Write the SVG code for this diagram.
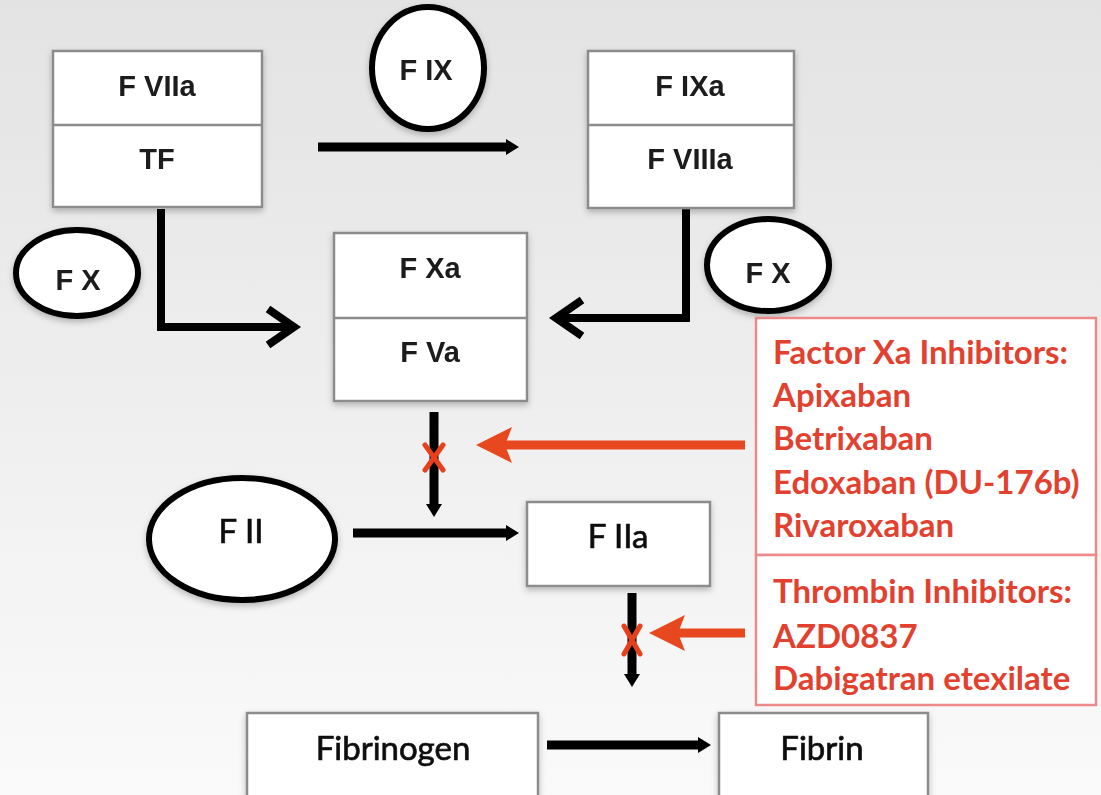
<svg xmlns="http://www.w3.org/2000/svg" width="1101" height="795" viewBox="0 0 1101 795">
<defs>
<linearGradient id="bg" x1="0" y1="0" x2="0" y2="1">
<stop offset="0" stop-color="#e3e3e3"/>
<stop offset="1" stop-color="#fafafa"/>
</linearGradient>
<filter id="sh" x="-20%" y="-20%" width="140%" height="140%">
<feDropShadow dx="0" dy="3" stdDeviation="3" flood-color="#000" flood-opacity="0.25"/>
</filter>
<marker id="ah" viewBox="0 -9 13 18" refX="2" refY="0" markerWidth="13" markerHeight="18" markerUnits="userSpaceOnUse" orient="auto">
<path d="M0,-8 L13,0 L0,8 z" fill="#000"/>
</marker>
<marker id="oh" viewBox="0 -19 36 38" refX="8" refY="0" markerWidth="36" markerHeight="38" markerUnits="userSpaceOnUse" orient="auto">
<path d="M36,0 L0,-18 L7,0 L0,18 z" fill="#e8481f"/>
</marker>
</defs>
<style>
.box{fill:#fff;stroke:#8c8c8c;stroke-width:2.5}
.div{stroke:#8c8c8c;stroke-width:2.5}
.ell{fill:#fff;stroke:#000;stroke-width:6}
.t1{font-family:"Liberation Sans",Arial,sans-serif;font-weight:bold;font-size:29px;fill:#1a1a1a;text-anchor:middle}
.t2{font-family:Lato,"Liberation Sans",sans-serif;font-size:33px;fill:#111;stroke:#111;stroke-width:0.7;text-anchor:middle}
.rb{fill:#fff;stroke:#ec8a8a;stroke-width:2.5}
.rt{font-family:Lato,"Liberation Sans",sans-serif;font-weight:bold;font-size:33px;fill:#e2412f}
.ln{fill:none;stroke:#000;stroke-width:9}
.el{fill:none;stroke:#000;stroke-width:8}
.or{fill:none;stroke:#e8481f;stroke-width:9}
.x{stroke:#e8401c;stroke-width:5;stroke-linecap:round}
</style>
<rect x="0" y="0" width="1101" height="795" fill="url(#bg)"/>

<g id="connectors">
<line class="ln" x1="318" y1="147" x2="508" y2="147" marker-end="url(#ah)"/>
<path class="el" d="M161,209 V327 H292"/>
<path class="el" d="M268,309 L294,327 L268,345"/>
<path class="el" d="M686,208 V318 H558"/>
<path class="el" d="M582,300 L556,318 L582,336"/>
<line class="ln" x1="434" y1="412" x2="434" y2="506" marker-end="url(#ah)"/>
<line class="ln" x1="353" y1="533" x2="508" y2="533" marker-end="url(#ah)"/>
<line class="ln" x1="632" y1="593" x2="632" y2="676" marker-end="url(#ah)"/>
<line class="ln" x1="547" y1="745" x2="700" y2="745" marker-end="url(#ah)"/>
<line class="or" x1="745" y1="445" x2="504" y2="445" marker-end="url(#oh)"/>
<line class="or" x1="745" y1="633" x2="677" y2="633" marker-end="url(#oh)"/>
<g id="block1"><line class="x" x1="425" y1="445" x2="443" y2="470"/><line class="x" x1="443" y1="445" x2="425" y2="470"/></g>
<g id="block2"><line class="x" x1="624" y1="626" x2="640" y2="654"/><line class="x" x1="640" y1="626" x2="624" y2="654"/></g>
</g>

<g id="fviia-tf" filter="url(#sh)">
<rect class="box" x="53" y="51" width="209" height="156"/>
<line class="div" x1="53" y1="125" x2="262" y2="125"/>
<text class="t1" x="157" y="96">F VIIa</text>
<text class="t1" x="157" y="169">TF</text>
</g>

<g id="fix" filter="url(#sh)">
<ellipse class="ell" cx="428" cy="68" rx="56" ry="61"/>
<text class="t1" x="426" y="80">F IX</text>
</g>

<g id="fixa-fviiia" filter="url(#sh)">
<rect class="box" x="588" y="51" width="206" height="157"/>
<line class="div" x1="588" y1="125" x2="794" y2="125"/>
<text class="t1" x="690" y="96">F IXa</text>
<text class="t1" x="690" y="169">F VIIIa</text>
</g>

<g id="fx-left" filter="url(#sh)">
<ellipse class="ell" cx="77" cy="273" rx="61" ry="43"/>
<text class="t1" x="78" y="290">F X</text>
</g>

<g id="fx-right" filter="url(#sh)">
<ellipse class="ell" cx="768" cy="265" rx="61" ry="46"/>
<text class="t1" x="768" y="283">F X</text>
</g>

<g id="fxa-fva" filter="url(#sh)">
<rect class="box" x="334" y="233" width="193" height="168"/>
<line class="div" x1="334" y1="318" x2="527" y2="318"/>
<text class="t1" x="430" y="278">F Xa</text>
<text class="t1" x="430" y="362">F Va</text>
</g>

<g id="fii" filter="url(#sh)">
<ellipse class="ell" cx="242" cy="539" rx="93" ry="61"/>
<text class="t2" x="241" y="543">F II</text>
</g>

<g id="fiia" filter="url(#sh)">
<rect class="box" x="527" y="502" width="183" height="84"/>
<text class="t2" x="618" y="548">F IIa</text>
</g>

<g id="fibrinogen" filter="url(#sh)">
<rect class="box" x="247" y="713" width="291" height="100"/>
<text class="t2" x="393" y="760">Fibrinogen</text>
</g>

<g id="fibrin" filter="url(#sh)">
<rect class="box" x="719" y="713" width="209" height="100"/>
<text class="t2" x="822" y="760">Fibrin</text>
</g>

<g id="xa-inhibitors">
<rect class="rb" x="756" y="318" width="340" height="237"/>
<text class="rt" x="773" y="364">Factor Xa Inhibitors:</text>
<text class="rt" x="773" y="407">Apixaban</text>
<text class="rt" x="773" y="450">Betrixaban</text>
<text class="rt" x="773" y="494">Edoxaban (DU-176b)</text>
<text class="rt" x="773" y="537">Rivaroxaban</text>
</g>

<g id="thrombin-inhibitors">
<rect class="rb" x="756" y="555" width="340" height="150"/>
<text class="rt" x="773" y="603">Thrombin Inhibitors:</text>
<text class="rt" x="773" y="648">AZD0837</text>
<text class="rt" x="773" y="690">Dabigatran etexilate</text>
</g>
</svg>
